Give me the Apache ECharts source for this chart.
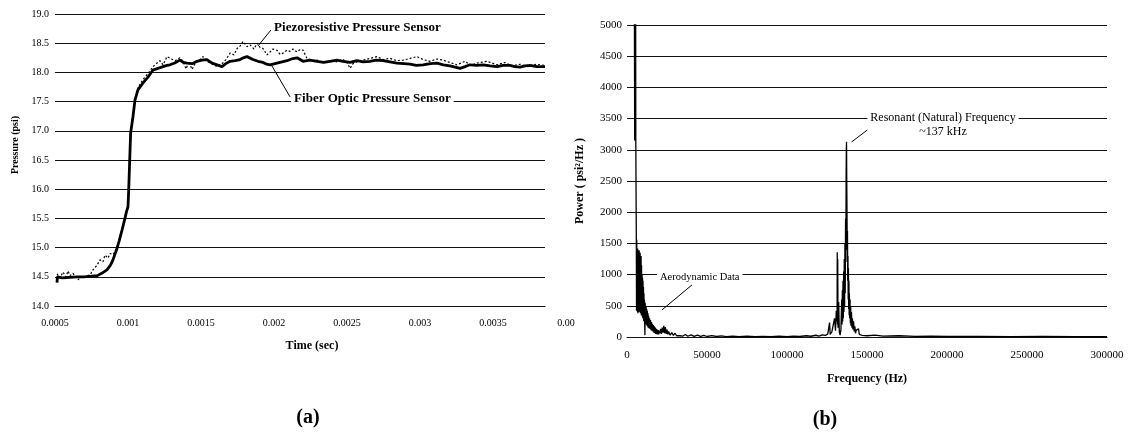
<!DOCTYPE html>
<html><head><meta charset="utf-8">
<script src="https://cdn.jsdelivr.net/npm/echarts@6/dist/echarts.min.js"></script>
<style>html,body{margin:0;padding:0;background:#fff}#c{width:1128px;height:434px}</style>
</head><body><div id="c"></div>
<script>
const FONT = "'Liberation Serif','Times New Roman',serif";

// ---- Chart (a): pressure vs time ----
const fiberTime = [0.000514,0.000516,0.00055,0.0006,0.00065,0.0007,0.00075,0.00079,0.00082,0.000856,0.00088,0.000897,0.000925,0.00094,0.000959,0.000979,0.00099,0.001,0.001005,0.00101,0.001018,0.001034,0.001048,0.001068,0.001103,0.001137,0.001171,0.001205,0.001240,0.001267,0.001288,0.001320,0.001356,0.001380,0.001404,0.001440,0.001473,0.001505,0.001541,0.001575,0.00161,0.001644,0.001670,0.001699,0.001735,0.001767,0.001790,0.001815,0.001856,0.001890,0.001925,0.001950,0.001973,0.00202,0.002055,0.002089,0.002120,0.002158,0.002199,0.002245,0.002295,0.002340,0.002384,0.002430,0.002473,0.002520,0.002568,0.002610,0.002658,0.002700,0.002747,0.002795,0.002842,0.002890,0.002932,0.002975,0.003021,0.003070,0.003116,0.003160,0.003205,0.003240,0.003274,0.003310,0.003342,0.003390,0.003432,0.003480,0.003527,0.003570,0.003616,0.003650,0.003685,0.003720,0.003753,0.003800,0.003856];
const fiberPsi  = [14.40,14.50,14.48,14.49,14.50,14.50,14.51,14.52,14.56,14.62,14.70,14.79,14.99,15.12,15.30,15.50,15.62,15.70,16.00,16.38,16.96,17.24,17.53,17.70,17.82,17.92,18.04,18.07,18.10,18.12,18.13,18.16,18.21,18.17,18.16,18.15,18.19,18.21,18.22,18.16,18.13,18.10,18.15,18.19,18.20,18.22,18.25,18.27,18.22,18.19,18.17,18.14,18.13,18.16,18.18,18.20,18.23,18.25,18.19,18.21,18.19,18.17,18.19,18.21,18.19,18.17,18.20,18.18,18.19,18.21,18.20,18.18,18.16,18.15,18.14,18.12,18.13,18.15,18.16,18.13,18.11,18.09,18.07,18.10,18.13,18.12,18.13,18.11,18.10,18.12,18.12,18.10,18.09,18.11,18.12,18.10,18.10];

const piezoTime = [0.000514,0.000534,0.000555,0.000575,0.000589,0.000603,0.000623,0.000644,0.000658,0.000678,0.000699,0.000719,0.00074,0.00076,0.000788,0.000808,0.000829,0.000842,0.000863,0.000877,0.000897,0.000911,0.000925,0.000959,0.000979,0.00099,0.001,0.001005,0.00101,0.001018,0.001034,0.001048,0.001068,0.001103,0.001137,0.001171,0.001199,0.001219,0.00124,0.001267,0.001288,0.001322,0.001356,0.001377,0.001397,0.001418,0.001438,0.001466,0.001493,0.001514,0.001548,0.001582,0.00161,0.001644,0.001671,0.001699,0.001726,0.001747,0.001767,0.001788,0.001815,0.001836,0.001863,0.001884,0.001904,0.001925,0.001952,0.001973,0.001993,0.00202,0.002041,0.002062,0.002089,0.00211,0.00213,0.002158,0.002178,0.002199,0.002226,0.00226,0.002295,0.002336,0.002384,0.002425,0.002473,0.0025,0.002521,0.002541,0.002568,0.00261,0.002658,0.002705,0.002747,0.002795,0.002842,0.002884,0.002932,0.002979,0.003021,0.003068,0.003116,0.003158,0.003205,0.003253,0.003308,0.003349,0.00339,0.003459,0.003527,0.003582,0.00363,0.003685,0.00374,0.003795,0.003856];
const piezoPsi  = [14.55,14.48,14.58,14.50,14.60,14.52,14.56,14.49,14.45,14.50,14.48,14.52,14.53,14.62,14.70,14.79,14.76,14.87,14.82,14.90,14.88,14.93,15.00,15.30,15.50,15.62,15.70,16.00,16.38,16.96,17.26,17.55,17.74,17.88,17.98,18.10,18.16,18.20,18.13,18.27,18.24,18.20,18.25,18.19,18.06,18.19,18.05,18.18,18.22,18.27,18.18,18.14,18.10,18.15,18.22,18.33,18.30,18.41,18.45,18.53,18.44,18.47,18.40,18.50,18.43,18.41,18.30,18.35,18.40,18.38,18.31,18.33,18.38,18.36,18.40,18.35,18.39,18.38,18.24,18.20,18.21,18.17,18.20,18.18,18.22,18.17,18.07,18.15,18.18,18.21,18.24,18.27,18.22,18.24,18.20,18.21,18.24,18.27,18.22,18.19,18.23,18.21,18.17,18.13,18.19,18.12,18.16,18.19,18.13,18.17,18.11,18.14,18.10,18.14,18.12];

// ---- Chart (b): power spectrum ----
const freqHz = [4600,4800,5000,5100,5200,5300,5400,5500,5650,5800,5950,6100,6250,6400,6550,6700,6850,7000,7150,7300,7450,7600,7750,7900,8050,8200,8350,8500,8650,8800,8950,9100,9250,9400,9550,9700,9850,10000,10150,10300,10450,10600,10750,10900,11050,11200,11350,11500,11650,11800,11950,12100,12300,12500,12700,12900,13100,13300,13500,13800,14100,14400,14700,15000,15300,15600,15900,16200,16500,16800,17100,17400,17700,18000,18300,18600,18900,19200,19500,19800,20100,20500,21000,21500,22000,22500,23000,23500,24000,24500,25000,25500,26000,27000,28000,29000,30000,31000,32000,33000,34000,35000,36500,38000,40000,42000,44000,46000,48000,50000,53000,56000,59000,62000,66000,70000,75000,80000,85000,90000,95000,100000,104000,108000,112000,115000,118000,120000,122000,124000,125500,126600,127000,128000,129000,129700,130300,130800,131300,131400,131550,131700,131900,132300,132700,133200,133700,134000,134200,134400,134600,134800,135000,135200,135400,135600,135800,136000,136200,136400,136600,136800,136950,137100,137200,137350,137500,137650,137800,137950,138100,138250,138400,138550,138700,138850,139000,139200,139400,139600,139800,140000,140300,140600,140900,141200,141600,142000,142400,142800,143300,144000,144700,145200,146000,147000,148000,150000,155000,160000,170000,180000,190000,200000,220000,240000,260000,280000,300000];
const powerPsd = [5500,3150,5500,3300,5500,3200,5400,3150,2400,1650,420,1560,450,1400,400,1420,380,1380,430,1350,400,1390,450,1300,420,1350,380,1250,400,1300,350,1150,400,1000,330,950,300,900,300,800,260,700,250,600,220,30,550,200,500,220,480,200,450,180,420,170,380,150,340,140,300,130,270,110,240,100,210,90,190,70,170,60,150,50,130,45,120,40,110,40,100,60,130,50,150,70,180,60,160,50,120,40,90,30,70,25,60,20,50,20,45,15,40,12,35,10,30,10,25,8,22,8,18,6,15,5,12,5,10,5,12,6,15,8,20,12,28,15,35,25,50,230,40,80,50,300,100,420,250,1360,200,1250,150,560,80,30,120,150,600,200,750,250,900,300,1050,400,1250,500,1500,700,1900,1200,2600,3000,3130,2500,2000,1400,1700,900,1300,600,1100,450,900,350,700,300,600,220,480,180,400,150,300,120,250,90,170,60,110,80,130,40,60,25,45,20,30,15,20,10,15,8,10,6,8,5,4];

// tick-axis settings
const timeTicks = {min:0.0005, max:0.003856, step:0.0005, cutLabelAt:0.004, cutLabel:'0.00'};
const psiTicks = {min:14, max:19, step:0.5};
const freqTicks = {min:0, max:300000, step:50000};
const powTicks = {min:0, max:5000, step:500};

// annotations in data coordinates
const piezoNote = {text:'Piezoresistive Pressure Sensor', at:[0.00198,18.76], from:[0.001979,18.726], to:[0.00189,18.452]};
const fiberNote = {text:'Fiber Optic Pressure Sensor', at:[0.002117,17.545], from:[0.00211,17.58], to:[0.001986,18.11]};
const resNote = {text:'Resonant (Natural) Frequency\n~137 kHz', at:[197500,3405], from:[155930,3429], to:[140335,3125]};
const aeroNote = {text:'Aerodynamic Data', at:[18700,962], from:[40541,833], to:[21830,433]};

const zip = (a,b) => a.map((v,i)=>[v,b[i]]);
const isStep = (v, s) => Math.abs(v/s - Math.round(v/s)) < 1e-6;

const lbl = {fontFamily:FONT, color:'#000'};
const grid = {lineStyle:{color:'#111', width:1}};

const chart = echarts.init(document.getElementById('c'), null, {renderer:'canvas'});
chart.setOption({
  animation:false,
  backgroundColor:'#fff',
  grid:[{left:55, top:14, width:490, height:292},{left:627, top:25, width:480, height:312}],
  xAxis:[
    {gridIndex:0, type:'value', min:timeTicks.min, max:timeTicks.max, interval:timeTicks.step,
     axisLine:{show:true, lineStyle:{color:'#111'}}, axisTick:{show:false}, splitLine:{show:false},
     axisLabel:Object.assign({fontSize:10, margin:12, formatter:v=>isStep(v,timeTicks.step)?String(+v.toFixed(5)):''}, lbl),
     name:'Time (sec)', nameLocation:'middle', nameGap:34,
     nameTextStyle:{fontFamily:FONT, fontWeight:'bold', fontSize:12, color:'#000', padding:[0,0,0,24]}},
    {gridIndex:1, type:'value', min:freqTicks.min, max:freqTicks.max, interval:freqTicks.step,
     axisLine:{show:true, lineStyle:{color:'#111'}}, axisTick:{show:false}, splitLine:{show:false},
     axisLabel:Object.assign({fontSize:11, margin:13, formatter:v=>String(v)}, lbl),
     name:'Frequency (Hz)', nameLocation:'middle', nameGap:36,
     nameTextStyle:{fontFamily:FONT, fontWeight:'bold', fontSize:12, color:'#000'}}
  ],
  yAxis:[
    {gridIndex:0, type:'value', min:psiTicks.min, max:psiTicks.max, interval:psiTicks.step,
     axisLine:{show:false}, axisTick:{show:false}, splitLine:Object.assign({show:true}, grid),
     axisLabel:Object.assign({fontSize:10, margin:6, formatter:v=>v.toFixed(1)}, lbl),
     name:'Pressure (psi)', nameLocation:'middle', nameGap:35,
     nameTextStyle:{fontFamily:FONT, fontWeight:'bold', fontSize:10, color:'#000', padding:[0,0,0,30]}},
    {gridIndex:1, type:'value', min:powTicks.min, max:powTicks.max, interval:powTicks.step,
     axisLine:{show:false}, axisTick:{show:false}, splitLine:Object.assign({show:true}, grid),
     axisLabel:Object.assign({fontSize:11, margin:5, formatter:v=>String(v)}, lbl),
     name:'Power ( psi²/Hz )', nameLocation:'middle', nameGap:41,
     nameTextStyle:{fontFamily:FONT, fontWeight:'bold', fontSize:12, color:'#000'}}
  ],
  series:[
    {type:'line', name:'Piezoresistive Pressure Sensor', xAxisIndex:0, yAxisIndex:0, data:zip(piezoTime,piezoPsi),
     showSymbol:false, lineStyle:{color:'#000', width:1.2, type:[2,2]}, z:3},
    {type:'line', name:'Fiber Optic Pressure Sensor', xAxisIndex:0, yAxisIndex:0, data:zip(fiberTime,fiberPsi),
     showSymbol:false, lineStyle:{color:'#000', width:2.8}, z:4},
    {type:'line', name:'Power', xAxisIndex:1, yAxisIndex:1, data:zip(freqHz,powerPsd),
     showSymbol:false, lineStyle:{color:'#000', width:1.3}, clip:true, z:3}
  ]
});

function px(idx, pt){ return chart.convertToPixel({gridIndex:idx}, pt); }
function note(idx, n, opts){
  const p = px(idx, n.at), a = px(idx, n.from), b = px(idx, n.to);
  return [
    {type:'line', shape:{x1:a[0],y1:a[1],x2:b[0],y2:b[1]}, style:{stroke:'#000', lineWidth:1}, z:100},
    {type:'text', x:p[0], y:p[1], z:101, style:Object.assign({text:n.text, fill:'#000', backgroundColor:'#fff',
      padding:[1,3], verticalAlign:'middle'}, opts)}
  ];
}
const cutX = chart.convertToPixel({xAxisIndex:0}, timeTicks.cutLabelAt);
const baseY = chart.convertToPixel({yAxisIndex:0}, psiTicks.min);
let g = [];
g = g.concat(note(0, piezoNote, {font:'bold 13px '+FONT, align:'left'}));
g = g.concat(note(0, fiberNote, {font:'bold 13px '+FONT, align:'left'}));
g = g.concat(note(1, resNote, {font:'12px '+FONT, align:'center', lineHeight:14}));
g = g.concat(note(1, aeroNote, {font:'10.5px '+FONT, align:'left'}));
g.push({type:'text', x:cutX, y:baseY+12, style:{text:timeTicks.cutLabel, font:'10px '+FONT, fill:'#000', align:'center', verticalAlign:'top'}});
g.push({type:'text', x:308, y:418, style:{text:'(a)', font:'bold 20px '+FONT, fill:'#000', align:'center', verticalAlign:'middle'}});
g.push({type:'text', x:825, y:420, style:{text:'(b)', font:'bold 20px '+FONT, fill:'#000', align:'center', verticalAlign:'middle'}});
chart.setOption({graphic:g});
</script></body></html>
